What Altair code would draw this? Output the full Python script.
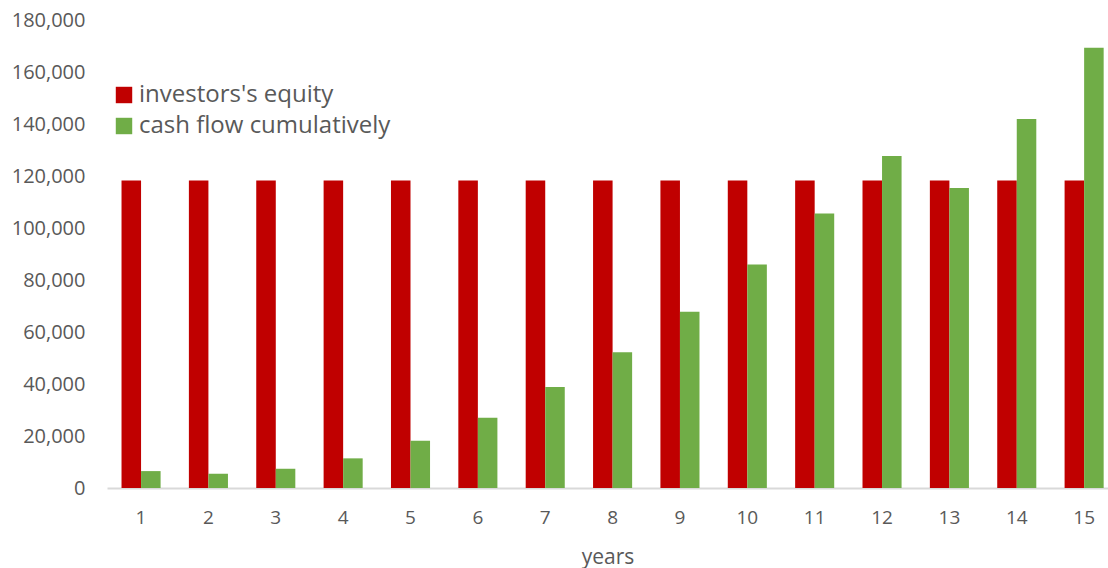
import altair as alt
import pandas as pd

years = list(range(1, 16))
investors_equity = [118300] * 15
cash_flow_cumulative = [6500, 5500, 7400, 11400, 18200, 27000, 38800, 52200,
                        67800, 86000, 105600, 127700, 115400, 141900, 169300]
series_names = ["investors's equity", "cash flow cumulatively"]
series_colors = ["#C00000", "#70AD47"]

rows = []
for y, a, b in zip(years, investors_equity, cash_flow_cumulative):
    rows.append({"year": y, "series": series_names[0], "value": a, "order": 0})
    rows.append({"year": y, "series": series_names[1], "value": b, "order": 1})
df = pd.DataFrame(rows)

FONT = "Open Sans"
GRAY = "#595959"

chart = alt.Chart(df).mark_bar().encode(
    x=alt.X("year:O", title="years",
            scale=alt.Scale(paddingInner=0.42, paddingOuter=0.14, align=0.77),
            axis=alt.Axis(labelAngle=0, ticks=False, domainColor="#D9D9D9",
                          domainWidth=2, labelColor=GRAY, labelFontSize=19,
                          labelFont=FONT, labelPadding=20, titleColor=GRAY,
                          titleFont=FONT, titleFontSize=21, titleFontWeight="normal",
                          titlePadding=19)),
    xOffset=alt.XOffset("order:O", scale=alt.Scale(paddingInner=0, paddingOuter=0)),
    y=alt.Y("value:Q", title=None,
            scale=alt.Scale(domain=[0, 180000], nice=False),
            axis=alt.Axis(values=list(range(0, 180001, 20000)), format=",.0f",
                          grid=False, domain=False, ticks=False,
                          labelColor=GRAY, labelFontSize=20, labelFont=FONT,
                          labelPadding=22)),
    color=alt.Color("series:N", sort=series_names,
                    scale=alt.Scale(domain=series_names, range=series_colors),
                    legend=alt.Legend(title=None, orient="none", legendX=5, legendY=63,
                                      symbolType="square", symbolSize=270,
                                      symbolStrokeWidth=0, labelFontSize=24,
                                      labelFont=FONT, labelColor=GRAY, labelLimit=500,
                                      rowPadding=7, padding=0, labelOffset=3)),
).properties(
    width=1001, height=468,
    autosize=alt.AutoSizeParams(type="none"),
    padding={"left": 107, "top": 20, "right": 0, "bottom": 80},
).configure_view(stroke=None)

chart.save("out.html", embed_options={"renderer": "svg", "actions": False})
